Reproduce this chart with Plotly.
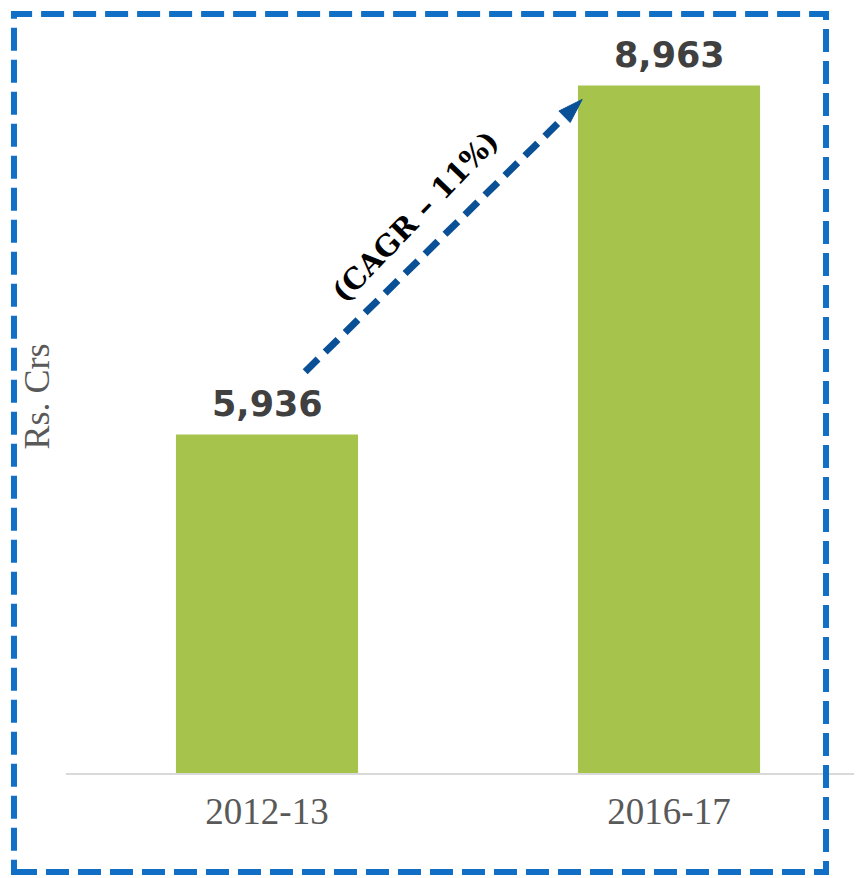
import plotly.graph_objects as go

# ── Data ─────────────────────────────────────────────────────
years = ["2012-13", "2016-17"]
revenue = [5936, 8963]
cagr_label = "(CAGR – 11%)"

BAR_GREEN = "#A6C34C"
ARROW_BLUE = "#0A5096"
FRAME_BLUE = "#1170C6"

xpos = list(range(len(years)))

fig = go.Figure()

fig.add_trace(go.Bar(
    x=xpos,
    y=revenue,
    width=0.453,
    marker=dict(color=BAR_GREEN, line=dict(width=0)),
    hoverinfo="skip",
))

# ── Growth arrow, anchored on the two bar values ─────────────
fig.add_trace(go.Scatter(
    x=[xpos[0] + 0.095, xpos[1] - 0.216],
    y=[revenue[0] + 545, revenue[1] - 121],
    mode="lines+markers",
    line=dict(color=ARROW_BLUE, width=7, dash="18px,10px"),
    marker=dict(symbol=["circle", "arrow"], size=[0, 26], opacity=1,
                color=ARROW_BLUE, angleref="previous",
                line=dict(width=1, color=ARROW_BLUE)),
    opacity=1,
    cliponaxis=False,
    hoverinfo="skip",
))

# value labels above the bars
value_labels = [
    dict(x=x, y=v, xref="x", yref="y", text=f"{v:,}", showarrow=False,
         yanchor="bottom", yshift=8,
         font=dict(family="DejaVu Sans", size=35, color="#404040", weight="bold"))
    for x, v in zip(xpos, revenue)
]

fig.update_layout(
    width=862,
    height=878,
    paper_bgcolor="white",
    plot_bgcolor="white",
    showlegend=False,
    margin=dict(l=58, r=0, t=12, b=113),
    font=dict(family="Liberation Serif", color="#595959"),
    xaxis=dict(
        tickvals=xpos,
        ticktext=years,
        range=[-0.5, 1.5],
        showgrid=False,
        zeroline=False,
        showline=True,
        linecolor="#D9D9D9",
        linewidth=2,
        ticks="",
        ticklabelstandoff=5,
        tickfont=dict(family="Liberation Serif", size=37, color="#595959"),
    ),
    yaxis=dict(
        range=[3000, 9531],
        showgrid=False,
        zeroline=False,
        showline=False,
        showticklabels=False,
        ticks="",
        title=dict(text="Rs. Crs", standoff=4,
                   font=dict(family="Liberation Serif", size=36, color="#595959")),
    ),
    annotations=value_labels + [
        dict(
            x=0.37, y=7830, xref="x", yref="y",
            text=cagr_label,
            showarrow=False,
            textangle=-46,
            font=dict(family="DejaVu Serif", size=29, color="black", weight="bold"),
        ),
    ],
    shapes=[
        dict(
            type="rect", xref="paper", yref="paper",
            x0=-0.0647, x1=0.9453, y0=-0.1315, y1=1.008,
            line=dict(color=FRAME_BLUE, width=6, dash="23px,9px"),
            fillcolor="rgba(0,0,0,0)",
            layer="above",
        ),
    ],
)

fig.write_html("out.html")
